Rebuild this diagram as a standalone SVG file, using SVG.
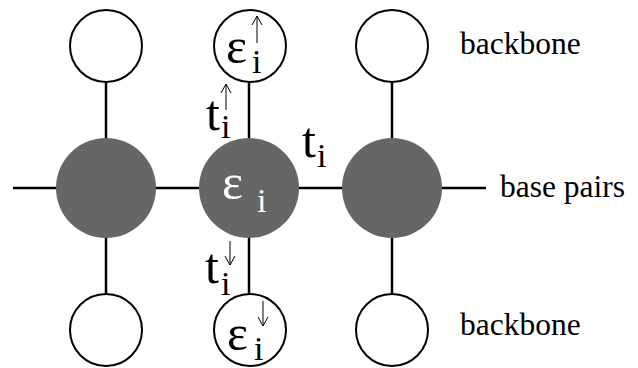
<svg xmlns="http://www.w3.org/2000/svg" width="638" height="368" viewBox="0 0 638 368">
  <defs>
    <style>
      .bond { stroke: #000; stroke-width: 2.5; fill: none; }
      .site { fill: #666666; stroke: none; }
      .bb { fill: #fff; stroke: #000; stroke-width: 2; }
      .arr { stroke: #000; stroke-width: 1; fill: none; }
    </style>
  </defs>

  <!-- connectors -->
  <g id="connectors">
    <line class="bond" x1="13" y1="188" x2="486" y2="188"/>
    <line class="bond" x1="106" y1="82" x2="106" y2="295"/>
    <line class="bond" x1="249" y1="82" x2="249" y2="295"/>
    <line class="bond" x1="392" y1="82" x2="392" y2="295"/>
  </g>

  <!-- base-pair sites -->
  <g id="site-left"><circle class="site" cx="106" cy="188" r="50"/></g>
  <g id="site-center">
    <circle class="site" cx="249" cy="188" r="50"/>
    <text x="222" y="199" font-family="Liberation Serif, serif" font-size="50" fill="#fff">ε</text>
    <text x="257" y="212" font-family="Liberation Serif, serif" font-size="34" fill="#fff">i</text>
  </g>
  <g id="site-right"><circle class="site" cx="392" cy="188" r="50"/></g>

  <!-- backbone sites, top row -->
  <g id="bb-top-left"><circle class="bb" cx="106" cy="46" r="36"/></g>
  <g id="bb-top-center">
    <circle class="bb" cx="250" cy="46" r="36"/>
    <text x="226" y="63" font-family="Liberation Serif, serif" font-size="50">ε</text>
    <text x="252" y="73" font-family="Liberation Serif, serif" font-size="34">i</text>
    <path class="arr" d="M257 43 V16 M252 25 L257 16 L262 25"/>
  </g>
  <g id="bb-top-right"><circle class="bb" cx="392" cy="46" r="36"/></g>

  <!-- backbone sites, bottom row -->
  <g id="bb-bottom-left"><circle class="bb" cx="106" cy="330" r="36"/></g>
  <g id="bb-bottom-center">
    <circle class="bb" cx="250" cy="330" r="36"/>
    <text x="227" y="350" font-family="Liberation Serif, serif" font-size="50">ε</text>
    <text x="254" y="360" font-family="Liberation Serif, serif" font-size="34">i</text>
    <path class="arr" d="M263 301 V326 M258 317 L263 326 L268 317"/>
  </g>
  <g id="bb-bottom-right"><circle class="bb" cx="392" cy="330" r="36"/></g>

  <!-- hopping labels -->
  <g id="t-up">
    <text x="206" y="130" font-family="Liberation Serif, serif" font-size="50">t</text>
    <text x="221" y="138" font-family="Liberation Serif, serif" font-size="34">i</text>
    <path class="arr" d="M226 110 V84 M221 93 L226 84 L231 93"/>
  </g>
  <g id="t-right">
    <text x="302" y="157" font-family="Liberation Serif, serif" font-size="50">t</text>
    <text x="317" y="167" font-family="Liberation Serif, serif" font-size="34">i</text>
  </g>
  <g id="t-down">
    <text x="205" y="283" font-family="Liberation Serif, serif" font-size="50">t</text>
    <text x="221" y="295" font-family="Liberation Serif, serif" font-size="34">i</text>
    <path class="arr" d="M230 241 V265 M225 256 L230 265 L235 256"/>
  </g>

  <!-- row labels -->
  <g id="labels">
    <text x="460" y="54" font-family="Liberation Serif, serif" font-size="31.5">backbone</text>
    <text x="500" y="197" font-family="Liberation Serif, serif" font-size="31.5">base pairs</text>
    <text x="460" y="335" font-family="Liberation Serif, serif" font-size="31.5">backbone</text>
  </g>
</svg>
